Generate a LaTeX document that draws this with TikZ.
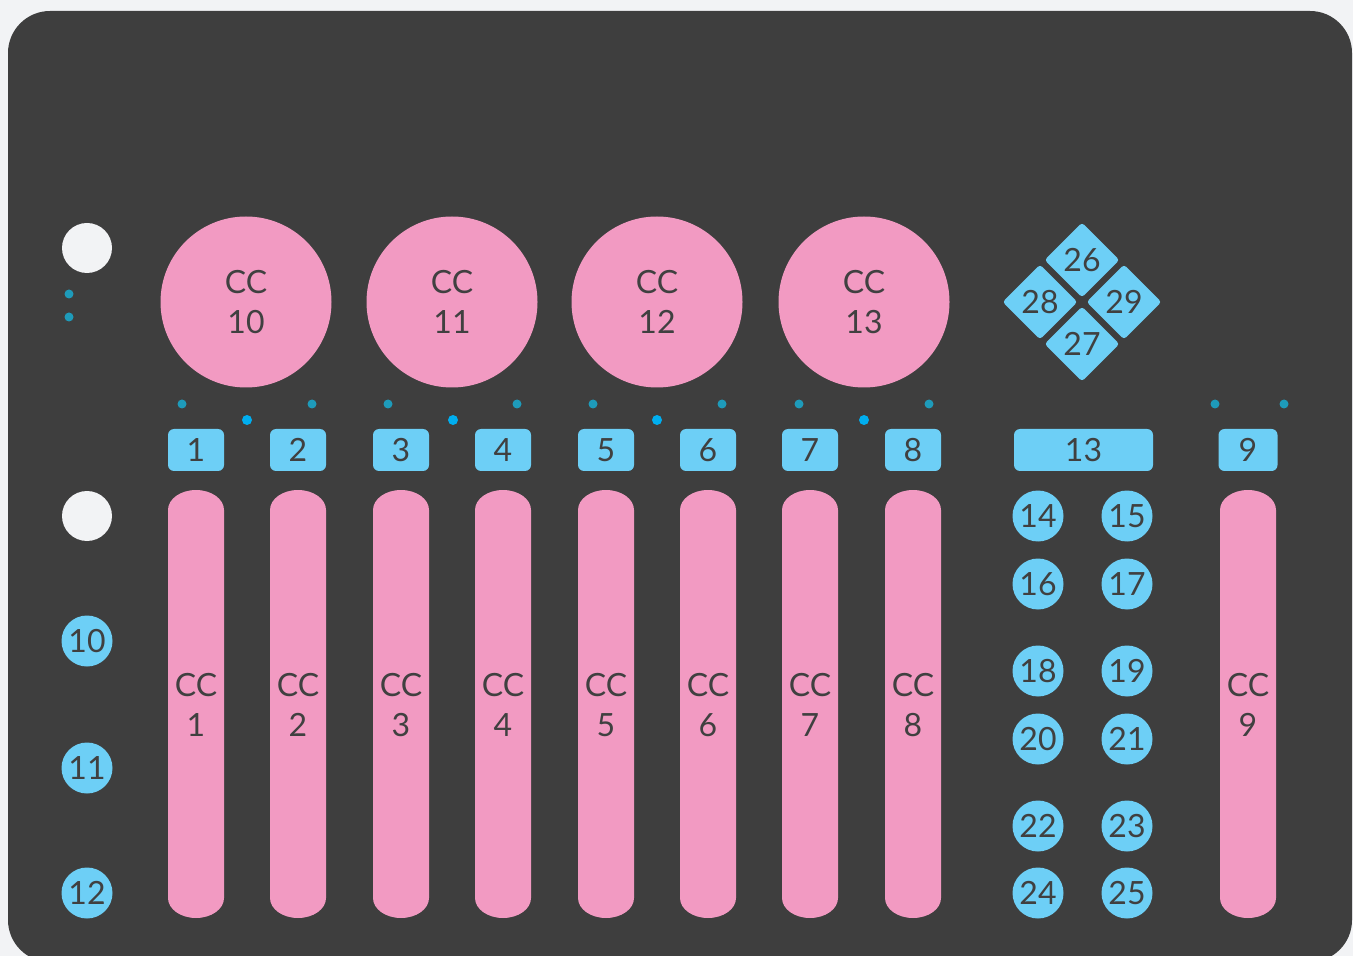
\documentclass[tikz,border=0pt]{standalone}
\usepackage{fontspec}
\setmainfont{Lato}
\usetikzlibrary{shapes.geometric}
\definecolor{bgc}{HTML}{F2F3F5}
\definecolor{panelc}{HTML}{3E3E3E}
\definecolor{pinkc}{HTML}{F29AC2}
\definecolor{bluec}{HTML}{6DCFF6}
\definecolor{tealc}{HTML}{1E9BBA}
\definecolor{brightc}{HTML}{00AEEF}
\definecolor{txtc}{HTML}{404040}
\definecolor{whitec}{HTML}{F2F3F5}
\begin{document}
\begin{tikzpicture}[x=0.5pt,y=-0.5pt,
  lbl/.style={text=txtc,font=\fontsize{16}{20}\selectfont,align=center,inner sep=0pt},
  knob/.style={circle,fill=pinkc,minimum size=85.5pt,inner sep=0pt,lbl},
  pad/.style={circle,fill=bluec,minimum size=25.5pt,inner sep=0pt,lbl},
  btn/.style={rectangle,fill=bluec,rounded corners=3pt,minimum width=28pt,minimum height=21pt,inner sep=0pt,lbl},
  dpad/.style={diamond,fill=bluec,minimum size=37.5pt,inner sep=0pt,rounded corners=1.5pt,lbl},
  wdot/.style={circle,fill=whitec,minimum size=25pt,inner sep=0pt},
  tdot/.style={circle,fill=tealc,minimum size=4.5pt,inner sep=0pt},
  bdot/.style={circle,fill=brightc,minimum size=5pt,inner sep=0pt},
  faderfill/.style={fill=pinkc}
]
\useasboundingbox (0,0) rectangle (1353,956);
\fill[bgc] (0,0) rectangle (1353,956);
\fill[panelc,rounded corners=21pt] (8,11) rectangle (1352,962);

% left column
\node[wdot] (w1) at (87,248) {};
\node[wdot] (w2) at (87,516) {};
\node[tdot] (ld1) at (69,294) {};
\node[tdot] (ld2) at (69,317) {};
\node[pad] (p10) at (87,641) {10};
\node[pad] (p11) at (87,768) {11};
\node[pad] (p12) at (87,893) {12};

% knobs
\node[knob] (k10) at (246,302) {CC\\10};
\node[knob] (k11) at (452,302) {CC\\11};
\node[knob] (k12) at (657,302) {CC\\12};
\node[knob] (k13) at (864,302) {CC\\13};

% dots
\foreach \a/\b/\m [count=\i] in {182/312/247,388/517/453,593/722/657,799/929/864}{
  \node[tdot] (ta\i) at (\a,404) {};
  \node[tdot] (tb\i) at (\b,404) {};
  \node[bdot] (bd\i) at (\m,420) {};
}
\node[tdot] (tc1) at (1215,404) {};
\node[tdot] (tc2) at (1284,404) {};

% faders and buttons
\foreach \x/\n in {196/1,298/2,401/3,503/4,606/5,708/6,810/7,913/8,1248/9}{
  \fill[faderfill] (\x-28,510) arc[start angle=180,end angle=360,x radius=28,y radius=20]
     -- (\x+28,898) arc[start angle=0,end angle=180,x radius=28,y radius=20] -- cycle;
  \node[lbl] (f\n) at (\x,705) {CC\\\n};
}
\foreach \x/\n in {196/1,298/2,401/3,503/4,606/5,708/6,810/7,913/8}{
  \node[btn] (b\n) at (\x,450) {\n};
}
\node[btn,minimum width=29.5pt] (b9) at (1248,450) {9};
\node[btn,minimum width=69.5pt] (b13) at (1083.5,450) {13};

% right pads
\foreach \y/\l/\r in {516/14/15,584/16/17,671/18/19,739/20/21,826/22/23,893/24/25}{
  \node[pad] (p\l) at (1038,\y) {\l};
  \node[pad] (p\r) at (1127,\y) {\r};
}

% d-pad
\node[dpad] (d26) at (1082,260) {26};
\node[dpad] (d27) at (1082,344) {27};
\node[dpad] (d28) at (1040,302) {28};
\node[dpad] (d29) at (1124,302) {29};
\end{tikzpicture}
\end{document}
